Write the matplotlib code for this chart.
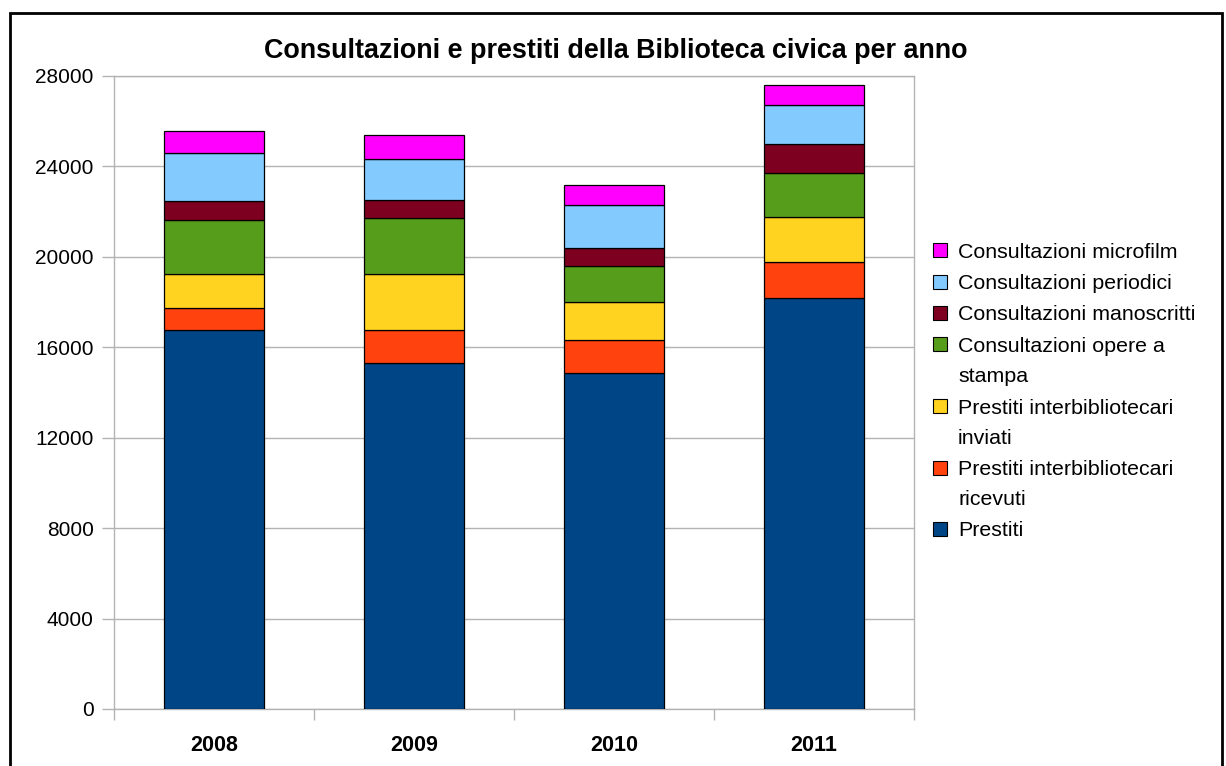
import matplotlib
matplotlib.use("Agg")
import matplotlib.pyplot as plt
import numpy as np
from matplotlib.patches import Rectangle

plt.rcParams['font.family'] = ['Liberation Sans', 'DejaVu Sans']

years = ["2008", "2009", "2010", "2011"]
series_names = [
    "Prestiti",
    "Prestiti interbibliotecari\nricevuti",
    "Prestiti interbibliotecari\ninviati",
    "Consultazioni opere a\nstampa",
    "Consultazioni manoscritti",
    "Consultazioni periodici",
    "Consultazioni microfilm",
]
prestiti = [16780, 15290, 14850, 18180]
ricevuti = [960, 1490, 1490, 1600]
inviati = [1500, 2450, 1680, 2000]
opere_stampa = [2370, 2475, 1565, 1950]
manoscritti = [880, 795, 795, 1240]
periodici = [2100, 1825, 1930, 1760]
microfilm = [960, 1075, 885, 880]
colors = ["#004586", "#ff420e", "#ffd320", "#579d1c", "#7e0021", "#83caff", "#ff00ff"]
yticks = [0, 4000, 8000, 12000, 16000, 20000, 24000, 28000]

data = [prestiti, ricevuti, inviati, opere_stampa, manoscritti, periodici, microfilm]

W, H = 1226, 766
fig = plt.figure(figsize=(W/100, H/100), dpi=100)
ax = fig.add_axes([114/W, 1-709/H, 800/W, 633/H])

x = np.arange(len(years))
bottom = np.zeros(len(years))
for vals, name, c in zip(data, series_names, colors):
    ax.bar(x, vals, width=0.5, bottom=bottom, color=c, edgecolor="black",
           linewidth=0.9, label=name, zorder=3)
    bottom += np.array(vals)

ax.set_xlim(-0.5, len(years) - 0.5)
ax.set_ylim(0, 28000)
ax.set_yticks(yticks)
ax.set_yticklabels([str(v) for v in yticks], fontsize=15)
ax.set_xticks(x)
ax.set_xticklabels(years, fontsize=15.5, fontweight="bold")
ax.set_xticks(np.arange(-0.5, len(years), 1.0), minor=True)
ax.tick_params(axis="x", which="major", length=0, pad=19)
ax.tick_params(axis="x", which="minor", length=8, color="#b3b3b3", width=1)
ax.tick_params(axis="y", length=8.5, color="#b3b3b3", width=1, pad=6)
ax.grid(axis="y", color="#b3b3b3", linewidth=1, zorder=0)
for s in ax.spines.values():
    s.set_color("#b3b3b3")
    s.set_linewidth(1)

fig.suptitle("Consultazioni e prestiti della Biblioteca civica per anno",
             fontsize=19.4, fontweight="bold", x=0.502, y=1-51/H, va="center")

# Legend (LibreOffice style: handle aligned with first text line)
py = 252.0
line_h = 30.0
gap = 1.5
for name, c in zip(series_names[::-1], colors[::-1]):
    lines = name.split("\n")
    fig.add_artist(Rectangle((933/W, 1-(py+5)/H), 14/W, 14/H,
                             transform=fig.transFigure, facecolor=c,
                             edgecolor="black", linewidth=0.8))
    for i, ln in enumerate(lines):
        fig.text(958/W, 1-(py + i*line_h)/H, ln, fontsize=15.4,
                 ha="left", va="center")
    py += len(lines)*line_h + gap

fig.add_artist(Rectangle((10/W, -0.1), 1212/W, 1.1 - 13/H,
                         transform=fig.transFigure, fill=False,
                         edgecolor="black", linewidth=2))

fig.savefig("out.png", dpi=100)
